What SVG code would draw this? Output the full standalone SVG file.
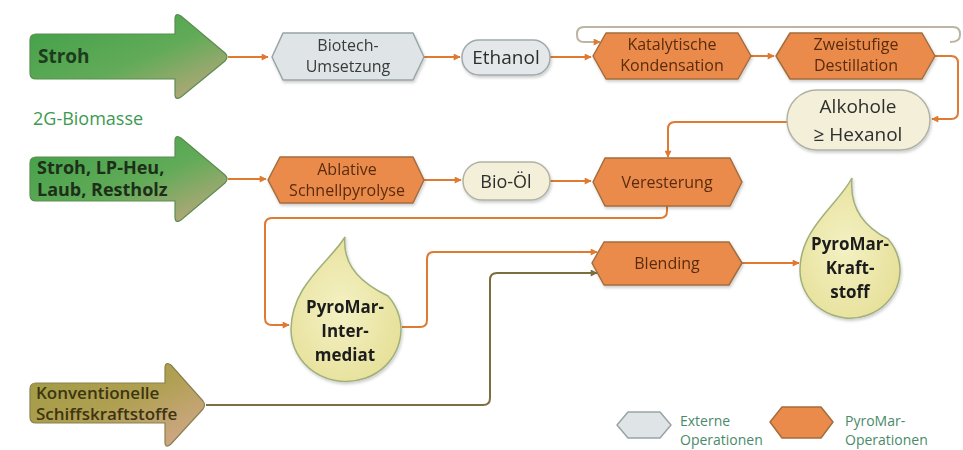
<svg xmlns="http://www.w3.org/2000/svg" width="963" height="450" viewBox="0 0 963 450">
<defs>
<linearGradient id="gGreen" x1="0" y1="0" x2="1" y2="1">
<stop offset="0" stop-color="#3f9f48"/>
<stop offset="0.55" stop-color="#62ab58"/>
<stop offset="1" stop-color="#c9a682"/>
</linearGradient>
<linearGradient id="gOlive" x1="0" y1="0" x2="1" y2="1">
<stop offset="0" stop-color="#9e9a42"/>
<stop offset="0.5" stop-color="#b0a052"/>
<stop offset="1" stop-color="#d6a892"/>
</linearGradient>
<radialGradient id="gDrop" cx="0.45" cy="0.5" r="0.6">
<stop offset="0" stop-color="#f4f1c4"/>
<stop offset="1" stop-color="#e6e098"/>
</radialGradient>
<filter id="sh" x="-10%" y="-10%" width="130%" height="140%">
<feDropShadow dx="1" dy="2" stdDeviation="1.5" flood-color="#000" flood-opacity="0.2"/>
</filter>
<marker id="aO" viewBox="0 0 10 10" refX="9" refY="5" markerWidth="9" markerHeight="7" markerUnits="userSpaceOnUse" orient="auto">
<path d="M0,0 L10,5 L0,10 Z" fill="#e07a30"/>
</marker>
<marker id="aB" viewBox="0 0 10 10" refX="9" refY="5" markerWidth="9" markerHeight="7" markerUnits="userSpaceOnUse" orient="auto">
<path d="M0,0 L10,5 L0,10 Z" fill="#7d6e40"/>
</marker>
</defs>
<style>
text{font-family:"Open Sans","Noto Sans","DejaVu Sans",sans-serif;}
.ext{fill:#dfe4e6;stroke:#98a4a6;stroke-width:1.5;stroke-linejoin:round;}
.op{fill:#ea8b4b;stroke:#a36e3e;stroke-width:1.5;stroke-linejoin:round;}
.pill{fill:#f3efd8;stroke:#b0b3a4;stroke-width:1.5;}
.pillg{fill:#e4e8ea;stroke:#a0aaad;stroke-width:1.5;}
.drop{fill:url(#gDrop);stroke:#9fb07a;stroke-width:1.5;}
.tx{font-size:16px;fill:#3a3a3a;text-anchor:middle;}
.to{font-size:16px;fill:#5a2c0e;text-anchor:middle;}
.tb{font-weight:bold;fill:#1c1c1c;text-anchor:middle;font-size:17px;}
.c{fill:none;stroke:#e07a30;stroke-width:2;}
.cb{fill:none;stroke:#7d6e40;stroke-width:2;}
.cg{fill:none;stroke:#bdb4a2;stroke-width:2;}
.leg{font-size:14px;fill:#4a8a6a;}
</style>

<g id="connectors">
<path class="c" d="M228 57 H268" marker-end="url(#aO)"/>
<path class="c" d="M424 57 H460" marker-end="url(#aO)"/>
<path class="c" d="M550 57 H591" marker-end="url(#aO)"/>
<path class="c" d="M751 56 H774" marker-end="url(#aO)"/>
<path class="cg" d="M950 42 Q960 42 960 35 V34 Q960 27 953 27 H584 Q577 27 577 34 V35 Q577 42 584 42 H600" marker-end="url(#aO)"/>
<path class="c" d="M935 56 H951 Q958 56 958 63 V112 Q958 119 951 119 H932" marker-end="url(#aO)"/>
<path class="c" d="M787 122 H675 Q668 122 668 129 V157" marker-end="url(#aO)"/>
<path class="c" d="M228 179 H266" marker-end="url(#aO)"/>
<path class="c" d="M424 180 H461" marker-end="url(#aO)"/>
<path class="c" d="M550 181 H591" marker-end="url(#aO)"/>
<path class="c" d="M667 206 V211 Q667 218 660 218 H272 Q265 218 265 225 V318 Q265 325 272 325 H289" marker-end="url(#aO)"/>
<path class="c" d="M402 327 H420 Q427 327 427 320 V259 Q427 252 434 252 H597" marker-end="url(#aO)"/>
<path class="cb" d="M206 405 H483 Q490 405 490 398 V280 Q490 273 497 273 H597" marker-end="url(#aB)"/>
<path class="c" d="M742 263 H799" marker-end="url(#aO)"/>
</g>

<g id="stroh">
<path d="M36 34 H175 V19 Q175 12 181 16 L225 53 Q229 57 225 61 L181 97 Q175 101 175 94 V79 H36 Q30 79 30 73 V40 Q30 34 36 34 Z" fill="url(#gGreen)" stroke="#5b8d52" stroke-width="1.2"/>
<text x="38" y="63" font-size="19" font-weight="bold" fill="#1d3b1d">Stroh</text>
</g>
<text id="biomasse" x="33" y="125" font-size="18" fill="#3c9a50">2G-Biomasse</text>

<g id="stroh2">
<path d="M36 157 H175 V141 Q175 134 181 138 L225 175 Q229 179 225 183 L181 220 Q175 224 175 217 V201 H36 Q30 201 30 195 V163 Q30 157 36 157 Z" fill="url(#gGreen)" stroke="#5b8d52" stroke-width="1.2"/>
<text x="37" y="174" font-size="18" font-weight="bold" fill="#1d2f1a">Stroh, LP-Heu,</text>
<text x="37" y="196" font-size="18" font-weight="bold" fill="#1d2f1a">Laub, Restholz</text>
</g>

<g id="konv">
<path d="M36 383 H165 V368 Q165 361 171 365 L203 401 Q206 405 203 409 L171 444 Q165 449 165 442 V423 H36 Q30 423 30 417 V389 Q30 383 36 383 Z" fill="url(#gOlive)" stroke="#8a8050" stroke-width="1.2"/>
<text x="36" y="399" font-size="17" fill="#3d3512" font-weight="600">Konventionelle</text>
<text x="36" y="420" font-size="17" fill="#3d3512" font-weight="600">Schiffskraftstoffe</text>
</g>

<g id="biotech" filter="url(#sh)">
<polygon class="ext" points="272,57 283,33 413,33 424,57 413,80 283,80"/>
<text class="tx" x="348" y="51">Biotech-</text>
<text class="tx" x="348" y="72">Umsetzung</text>
</g>

<g id="ethanol" filter="url(#sh)">
<rect class="pillg" x="462" y="40" width="88" height="35" rx="17"/>
<text x="506" y="64" font-size="19" fill="#2e2e2e" text-anchor="middle">Ethanol</text>
</g>

<g id="katalytische" filter="url(#sh)">
<polygon class="op" points="593,56 606,33 738,33 751,56 738,79 606,79"/>
<text class="to" x="672" y="50">Katalytische</text>
<text class="to" x="672" y="71">Kondensation</text>
</g>

<g id="zweistufige" filter="url(#sh)">
<polygon class="op" points="776,56 790,33 922,33 935,56 922,79 790,79"/>
<text class="to" x="856" y="50">Zweistufige</text>
<text class="to" x="856" y="71">Destillation</text>
</g>

<g id="alkohole" filter="url(#sh)">
<rect class="pill" x="787" y="90" width="143" height="60" rx="30"/>
<text x="858" y="113" font-size="19" fill="#2e2e2e" text-anchor="middle">Alkohole</text>
<text x="858" y="141" font-size="19" fill="#2e2e2e" text-anchor="middle">≥ Hexanol</text>
</g>

<g id="ablative" filter="url(#sh)">
<polygon class="op" points="268,180 280,157 413,157 424,180 413,203 280,203"/>
<text class="to" x="347" y="175" font-size="14.5">Ablative</text>
<text class="to" x="347" y="196" font-size="14.5">Schnellpyrolyse</text>
</g>

<g id="bioeol" filter="url(#sh)">
<rect class="pill" x="463" y="162" width="87" height="38" rx="19"/>
<text x="506" y="188" font-size="18" fill="#2e2e2e" text-anchor="middle">Bio-Öl</text>
</g>

<g id="veresterung" filter="url(#sh)">
<polygon class="op" points="593,182 605,158 730,158 742,182 730,206 605,206"/>
<text class="to" x="667" y="188" font-size="16">Veresterung</text>
</g>

<g id="intermediat" filter="url(#sh)">
<path class="drop" d="M345 237 C330 262 291 285 291 330 A55 52 0 1 0 388 296 C365 285 342 268 345 237 Z"/>
<text class="tb" x="345" y="313">PyroMar-</text>
<text class="tb" x="345" y="337">Inter-</text>
<text class="tb" x="345" y="361">mediat</text>
</g>

<g id="blending" filter="url(#sh)">
<polygon class="op" points="592,263 604,242 729,242 742,263 729,285 604,285"/>
<text class="to" x="667" y="269" font-size="17">Blending</text>
</g>

<g id="kraftstoff" filter="url(#sh)">
<path class="drop" d="M852 178 C838 205 800 228 800 270 A50 48 0 1 0 888 239 C866 228 849 210 852 178 Z"/>
<text class="tb" x="850" y="250">PyroMar-</text>
<text class="tb" x="850" y="274">Kraft-</text>
<text class="tb" x="850" y="298">stoff</text>
</g>

<g id="legend">
<polygon class="ext" points="617,425 628,412 660,412 671,425 660,438 628,438"/>
<text class="leg" x="680" y="426">Externe</text>
<text class="leg" x="680" y="445">Operationen</text>
<polygon class="op" points="770,422 782,407 821,407 833,422 821,438 782,438"/>
<text class="leg" x="845" y="426">PyroMar-</text>
<text class="leg" x="845" y="445">Operationen</text>
</g>
</svg>
